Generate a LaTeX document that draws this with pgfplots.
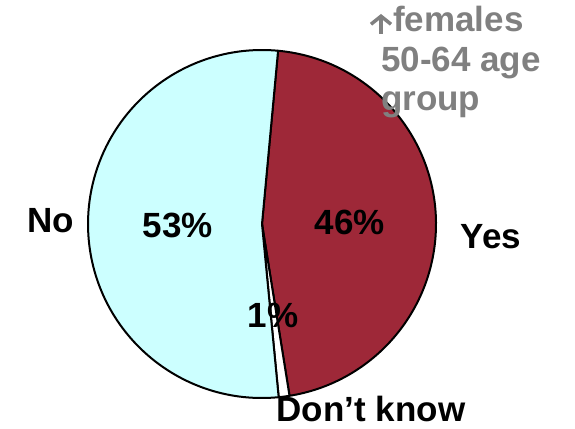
\documentclass[border=0pt]{standalone}
\usepackage{pgfplots}
\pgfplotsset{compat=1.18}
\usepackage{pgfplotstable}
\usetikzlibrary{arrows.meta}
\usepackage{fontspec}
\setmainfont{Liberation Sans}

\definecolor{yescol}{RGB}{158,40,56}
\definecolor{nocol}{RGB}{204,255,255}
\definecolor{notegray}{RGB}{128,128,128}

% share of answers, in per cent
\pgfplotstableread{
answer value
Yes 46
DontKnow 1
No 53
}\piedata

\pgfplotstablegetelem{0}{value}\of\piedata \let\vyes\pgfplotsretval
\pgfplotstablegetelem{1}{value}\of\piedata \let\vdk\pgfplotsretval
\pgfplotstablegetelem{2}{value}\of\piedata \let\vno\pgfplotsretval

\pgfmathsetmacro\aA{84.7}
\pgfmathsetmacro\aB{\aA-3.6*\vyes}
\pgfmathsetmacro\aC{\aB-3.6*\vdk}
\pgfmathsetmacro\aD{\aC-3.6*\vno}

\tikzset{lbl/.style={font=\fontsize{35}{39.5}\selectfont\bfseries, inner sep=0pt}}

\begin{document}
\begin{tikzpicture}
\begin{axis}[
  x=1pt, y=1pt,
  xmin=0, xmax=575, ymin=0, ymax=428,
  scale only axis,
  axis line style={draw=none},
  xtick=\empty, ytick=\empty,
  clip=false,
]
\filldraw[fill=yescol, draw=black, line width=2pt, line join=round]
  (axis cs:262,204) -- ++(\aA:174pt) arc[start angle=\aA, end angle=\aB, radius=174pt] -- cycle;
\filldraw[fill=white, draw=black, line width=2pt, line join=round]
  (axis cs:262,204) -- ++(\aB:174pt) arc[start angle=\aB, end angle=\aC, radius=174pt] -- cycle;
\filldraw[fill=nocol, draw=black, line width=2pt, line join=round]
  (axis cs:262,204) -- ++(\aC:174pt) arc[start angle=\aC, end angle=\aD, radius=174pt] -- cycle;

\node[lbl] at (axis cs:51,207) {No};
\node[lbl] at (axis cs:178,203) {\vno\%};
\node[lbl] at (axis cs:350,206) {\vyes\%};
\node[lbl] at (axis cs:491,191) {Yes};
\node[lbl] at (axis cs:273,113) {\vdk\%};
\node[lbl] at (axis cs:371,19) {Don’t know};
\draw[notegray, line width=3.5pt, -{Straight Barb[length=8pt, width=20pt, line width=3.5pt]}]
  (axis cs:381,394) -- (axis cs:381,414);
\node[lbl, anchor=north west, align=left, text=notegray]
  at (axis cs:381,422) {\hspace*{12pt}females\\50-64 age\\group};
\end{axis}
\end{tikzpicture}
\end{document}
